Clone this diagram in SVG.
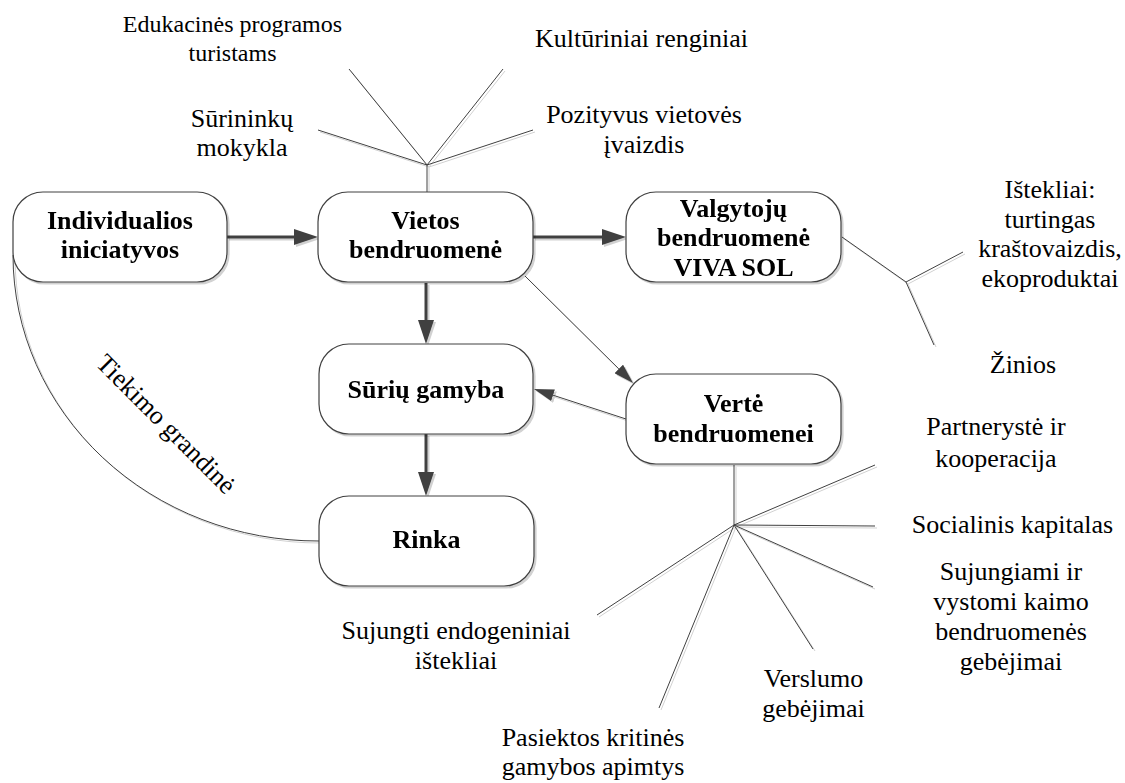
<svg xmlns="http://www.w3.org/2000/svg" width="1125" height="783" viewBox="0 0 1125 783">
<style>
.box{fill:#fff;stroke:#404040;stroke-width:1.2}
.nt{font-family:"Liberation Serif","Times New Roman",serif;font-weight:bold;font-size:26px;fill:#000;text-anchor:middle}
.lt{font-family:"Liberation Serif","Times New Roman",serif;font-size:26px;fill:#000;text-anchor:middle}
.sm{font-size:24px}
.thick{stroke:#404040;stroke-width:3;fill:none}
.thin{stroke:#404040;stroke-width:1;fill:none}
</style>
<defs>
<filter id="sh" x="-10%" y="-10%" width="130%" height="130%">
<feDropShadow dx="2" dy="2" stdDeviation="0.7" flood-color="#000" flood-opacity="0.18"/>
</filter>
<marker id="ah" markerUnits="userSpaceOnUse" markerWidth="24" markerHeight="16" refX="0" refY="8" orient="auto">
<path d="M0,0 L24,8 L0,16 Z" fill="#404040"/>
</marker>
<marker id="as" markerUnits="userSpaceOnUse" markerWidth="20" markerHeight="12" refX="0" refY="6" orient="auto">
<path d="M0,0 L20,6 L0,12 Z" fill="#404040"/>
</marker>
</defs>
<rect width="1125" height="783" fill="#fff"/>

<g id="connectors" filter="url(#sh)">
<line class="thick" x1="227" y1="237" x2="294" y2="237" marker-end="url(#ah)"/>
<line class="thick" x1="533" y1="237" x2="602" y2="237" marker-end="url(#ah)"/>
<line class="thick" x1="426" y1="283" x2="426" y2="320" marker-end="url(#ah)"/>
<line class="thick" x1="426" y1="434" x2="426" y2="472" marker-end="url(#ah)"/>
<line class="thin" x1="525" y1="276" x2="618.8" y2="368.9" marker-end="url(#as)"/>
<line class="thin" x1="626" y1="419" x2="553" y2="395.2" marker-end="url(#as)"/>
<path class="thin" d="M13,255 A305,286 0 0 0 319,541"/>
<path class="thin" d="M427,192 L427,165 M427,165 L349,69 M427,165 L503,69 M427,165 L318,130 M427,165 L533,130"/>
<path class="thin" d="M842,237 L906,282 M906,282 L963,252 M906,282 L934,345"/>
<path class="thin" d="M734,465 L734,525 M734,525 L875,465 M734,525 L875,526 M734,525 L873,587 M734,525 L813,649 M734,525 L659,708 M734,525 L597,615"/>
</g>

<g id="n-individualios" filter="url(#sh)">
<rect class="box" x="13" y="192" width="214" height="90" rx="30"/>
<text class="nt" x="120" y="229">Individualios</text>
<text class="nt" x="120" y="258">iniciatyvos</text>
</g>
<g id="n-vietos" filter="url(#sh)">
<rect class="box" x="318" y="192" width="215" height="90" rx="30"/>
<text class="nt" x="425.5" y="229">Vietos</text>
<text class="nt" x="425.5" y="258">bendruomenė</text>
</g>
<g id="n-valgytoju" filter="url(#sh)">
<rect class="box" x="626" y="192" width="215" height="90" rx="30"/>
<text class="nt" x="733.5" y="216.5">Valgytojų</text>
<text class="nt" x="733.5" y="246">bendruomenė</text>
<text class="nt" x="733.5" y="276">VIVA SOL</text>
</g>
<g id="n-suriu" filter="url(#sh)">
<rect class="box" x="319" y="344" width="214" height="90" rx="30"/>
<text class="nt" x="426" y="398">Sūrių gamyba</text>
</g>
<g id="n-rinka" filter="url(#sh)">
<rect class="box" x="319" y="496" width="215" height="90" rx="30"/>
<text class="nt" x="426.5" y="548">Rinka</text>
</g>
<g id="n-verte" filter="url(#sh)">
<rect class="box" x="626" y="374" width="215" height="90" rx="30"/>
<text class="nt" x="733.5" y="411.5">Vertė</text>
<text class="nt" x="733.5" y="441.5">bendruomenei</text>
</g>

<g id="labels">
<text class="lt sm" x="232.5" y="32">Edukacinės programos</text>
<text class="lt sm" x="232.5" y="61">turistams</text>
<text class="lt" x="242" y="126.5">Sūrininkų</text>
<text class="lt" x="242" y="156">mokykla</text>
<text class="lt" x="641.5" y="46.5">Kultūriniai renginiai</text>
<text class="lt" x="644" y="123">Pozityvus vietovės</text>
<text class="lt" x="644" y="152.5">įvaizdis</text>
<text class="lt" x="1050" y="198">Ištekliai:</text>
<text class="lt" x="1050" y="227.5">turtingas</text>
<text class="lt" x="1050" y="257">kraštovaizdis,</text>
<text class="lt" x="1050" y="286.5">ekoproduktai</text>
<text class="lt" x="1023" y="373">Žinios</text>
<text class="lt" x="996" y="435">Partnerystė ir</text>
<text class="lt" x="996" y="466.5">kooperacija</text>
<text class="lt" x="1012.5" y="533">Socialinis kapitalas</text>
<text class="lt" x="1011" y="579.5">Sujungiami ir</text>
<text class="lt" x="1011" y="609.5">vystomi kaimo</text>
<text class="lt" x="1011" y="639.5">bendruomenės</text>
<text class="lt" x="1011" y="669.5">gebėjimai</text>
<text class="lt" x="456" y="639">Sujungti endogeniniai</text>
<text class="lt" x="456" y="669">ištekliai</text>
<text class="lt" x="813.5" y="686.5">Verslumo</text>
<text class="lt" x="813.5" y="716.5">gebėjimai</text>
<text class="lt" x="593" y="746">Pasiektos kritinės</text>
<text class="lt" x="593" y="775">gamybos apimtys</text>
<text class="lt" x="0" y="0" transform="translate(160,430) rotate(45)">Tiekimo grandinė</text>
</g>
</svg>
